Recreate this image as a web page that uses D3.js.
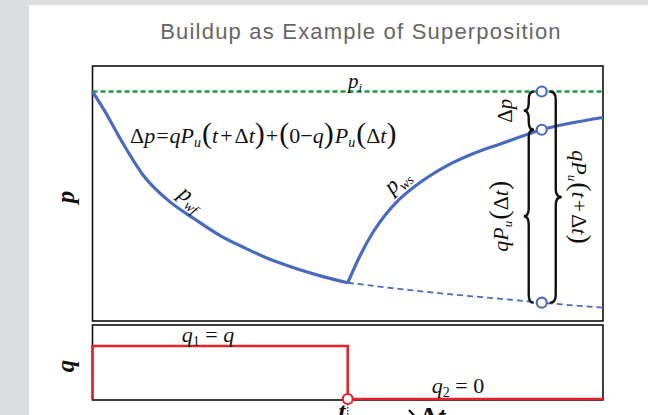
<!DOCTYPE html>
<html>
<head>
<meta charset="utf-8">
<script src="https://cdn.jsdelivr.net/npm/d3@7"></script>
<style>
  html, body { margin: 0; padding: 0; background: #dcdddf; }
  svg { display: block; }
</style>
</head>
<body>
<svg id="chart" width="648" height="415"></svg>
<script>
// ---- data -------------------------------------------------------------
// time runs 0..10; the well is shut in at t = 5
const shutInTime = 5;
const timeDomain = [0, 10];
const pressureDomain = [0, 100];
const initialPressure = 90;

// flowing pressure p_wf during the drawdown period
const drawdownTime     = [0, 0.25, 0.5, 1, 1.5, 2, 2.5, 3, 3.5, 4, 4.5, 5];
const drawdownPressure = [90, 82, 73, 57, 47, 40, 33.5, 28.5, 24, 20.5, 17.5, 15];

// shut-in pressure p_ws against shut-in time Δt
const buildupDeltaT   = [0, 0.25, 0.5, 0.75, 1, 1.5, 2, 2.5, 3, 3.8, 5];
const buildupPressure = [15, 26, 35, 42, 47.5, 55.5, 61.5, 66, 69.5, 75, 79.8];

// drawdown continued as if the well kept flowing
const extensionTime     = [5, 6, 7, 8, 8.8, 10];
const extensionPressure = [15, 12.6, 10.5, 8.7, 7.2, 5.2];

// rate history: q1 = q until t, then q2 = 0
const rateTime  = [0, 0, 5, 5, 10];
const rateValue = [0, 1, 1, 0, 0];

// reading taken at t + Δt
const observeTime = 8.8;
const observePressures = [90, 75, 7.2];   // p_i, p_ws, extended p_wf

// ---- layout -----------------------------------------------------------
const svg = d3.select("#chart");
const blue = "#4a6bbd", green = "#1e9a4a", red = "#e6232b";
const serif = "'Liberation Serif', 'Times New Roman', serif";

svg.append("rect").attr("width", 648).attr("height", 415).attr("fill", "#dcdddf");
svg.append("rect").attr("x", 29).attr("y", 5).attr("width", 619).attr("height", 410).attr("fill", "#fff");

const x = d3.scaleLinear().domain(timeDomain).range([92.5, 603]);
const yP = d3.scaleLinear().domain(pressureDomain).range([321, 66]);
const yQ = d3.scaleLinear().domain([0, 1]).range([399, 346]);

// title
svg.append("text")
  .attr("x", 361).attr("y", 39)
  .attr("text-anchor", "middle")
  .attr("font-family", "'Liberation Sans', Arial, sans-serif")
  .attr("font-size", 22)
  .attr("letter-spacing", 1.2)
  .attr("fill", "#666")
  .text("Buildup as Example of Superposition");

// panel frames
const [x0, x1] = x.range();
svg.append("rect").attr("x", x0).attr("y", yP.range()[1])
  .attr("width", x1 - x0).attr("height", yP.range()[0] - yP.range()[1])
  .attr("fill", "none").attr("stroke", "#111").attr("stroke-width", 1.6);
svg.append("rect").attr("x", x0).attr("y", 325)
  .attr("width", x1 - x0).attr("height", 75)
  .attr("fill", "none").attr("stroke", "#111").attr("stroke-width", 1.6);

// text built from runs: [string, {italic, size, dy, dx}]
function mathText(parent, px, py, runs, opts = {}) {
  const t = parent.append("text")
    .attr("x", px).attr("y", py)
    .attr("font-family", serif)
    .attr("font-size", opts.size || 20)
    .attr("text-anchor", opts.anchor || "start")
    .attr("fill", "#111");
  if (opts.weight) t.attr("font-weight", opts.weight);
  if (opts.transform) t.attr("transform", opts.transform);
  runs.forEach(([s, o = {}]) => {
    const ts = t.append("tspan").text(s);
    if (o.italic) ts.attr("font-style", "italic");
    if (o.size) ts.attr("font-size", o.size);
    if (o.dy) ts.attr("dy", o.dy);
    if (o.dx) ts.attr("dx", o.dx);
  });
  return t;
}

// ---- pressure panel ---------------------------------------------------
svg.append("line")
  .attr("x1", x0).attr("x2", x1)
  .attr("y1", yP(initialPressure)).attr("y2", yP(initialPressure))
  .attr("stroke", green).attr("stroke-width", 2.6).attr("stroke-dasharray", "5,3");

const line = d3.line().curve(d3.curveMonotoneX);

svg.append("path")
  .attr("d", line(extensionTime.map((t, i) => [x(t), yP(extensionPressure[i])])))
  .attr("fill", "none").attr("stroke", blue).attr("stroke-width", 1.8)
  .attr("stroke-dasharray", "6,4");

svg.append("path")
  .attr("d", line(drawdownTime.map((t, i) => [x(t), yP(drawdownPressure[i])])))
  .attr("fill", "none").attr("stroke", blue).attr("stroke-width", 3.2);

svg.append("path")
  .attr("d", line(buildupDeltaT.map((dt, i) => [x(shutInTime + dt), yP(buildupPressure[i])])))
  .attr("fill", "none").attr("stroke", blue).attr("stroke-width", 3.2);

// curly brace, vertical, ends at xe, tip pointing dir (-1 left, +1 right)
function brace(xe, ya, yb, w, dir) {
  const ym = (ya + yb) / 2, xm = xe + dir * w / 2, xt = xe + dir * w, r = Math.min(8, (yb - ya) / 4);
  return `M${xe},${ya} Q${xm},${ya} ${xm},${ya + r} L${xm},${ym - r} Q${xm},${ym} ${xt},${ym}` +
         ` Q${xm},${ym} ${xm},${ym + r} L${xm},${yb - r} Q${xm},${yb} ${xe},${yb}`;
}
const ox = x(observeTime);
const [yTop, yMid, yBot] = observePressures.map(yP);
const braces = svg.append("g").attr("fill", "none").attr("stroke", "#111").attr("stroke-width", 2.4);
braces.append("path").attr("d", brace(ox - 8, yTop, yMid, 10, -1));
braces.append("path").attr("d", brace(ox - 8, yMid, yBot, 10, -1));
braces.append("path").attr("d", brace(ox + 8, yTop, yBot, 12, 1));

svg.selectAll("circle.obs").data(observePressures).join("circle")
  .attr("class", "obs")
  .attr("cx", ox).attr("cy", d => yP(d)).attr("r", 5)
  .attr("fill", "#fff").attr("stroke", blue).attr("stroke-width", 2.2);

// labels in the pressure panel
mathText(svg, 348, 88, [["p", {italic: true}], ["i", {italic: true, size: 13, dy: 4}]], {size: 21});

mathText(svg, 130, 143, [
  ["Δ"], ["p", {italic: true}], ["=", {dx: 1}], ["q", {italic: true, dx: 1}], ["P", {italic: true}],
  ["u", {italic: true, size: 14, dy: 4}], ["(", {size: 30, dy: -4, dx: 1}], ["t", {italic: true, size: 22}],
  ["+", {dx: 2}], ["Δ", {dx: 2}], ["t", {italic: true}], [")", {size: 30}], ["+", {dx: 1}],
  ["(", {size: 30, dx: 1}], ["0", {size: 22}], ["−"], ["q", {italic: true}], [")", {size: 30}],
  ["P", {italic: true, size: 22, dx: 1}], ["u", {italic: true, size: 14, dy: 4}],
  ["(", {size: 30, dy: -4, dx: 1}], ["Δ", {size: 22}], ["t", {italic: true}], [")", {size: 30}]
], {size: 22});

mathText(svg, 0, 0, [["p", {italic: true}], ["wf", {italic: true, size: 14, dy: 5}]],
  {transform: "translate(177,196) rotate(38)", size: 23});
mathText(svg, 0, 0, [["p", {italic: true}], ["ws", {italic: true, size: 14, dy: 5}]],
  {transform: "translate(392,195) rotate(-42)", size: 23});

mathText(svg, 0, 0, [["Δ"], ["p", {italic: true}]],
  {transform: `translate(512,${(yTop + yMid) / 2}) rotate(-90)`, anchor: "middle", size: 21});
mathText(svg, 0, 0, [["q", {italic: true}], ["P", {italic: true}], ["u", {italic: true, size: 13, dy: 4}],
  ["(", {size: 28, dy: -4, dx: 1}], ["Δ", {size: 22}], ["t", {italic: true}], [")", {size: 28}]],
  {transform: `translate(508,${(yMid + yBot) / 2}) rotate(-90)`, anchor: "middle", size: 22});
mathText(svg, 0, 0, [["q", {italic: true}], ["P", {italic: true}], ["u", {italic: true, size: 13, dy: 4}],
  ["(", {size: 28, dy: -4, dx: 1}], ["t", {italic: true, size: 22}], ["+", {dx: 2}], ["Δ", {dx: 2}],
  ["t", {italic: true}], [")", {size: 28}]],
  {transform: `translate(572,${(yTop + yBot) / 2}) rotate(90)`, anchor: "middle", size: 22});

// axis letters
mathText(svg, 0, 0, [["p"]], {transform: "translate(74,197) rotate(-90)", anchor: "middle", size: 25, weight: "bold"})
  .attr("font-style", "italic");
mathText(svg, 0, 0, [["q"]], {transform: "translate(74,366) rotate(-90)", anchor: "middle", size: 25, weight: "bold"})
  .attr("font-style", "italic");

// ---- rate panel -------------------------------------------------------
svg.append("path")
  .attr("d", d3.line()(rateTime.map((t, i) => [x(t), yQ(rateValue[i])])))
  .attr("fill", "none").attr("stroke", red).attr("stroke-width", 2.6);

svg.append("line")
  .attr("x1", x(shutInTime)).attr("x2", x(shutInTime))
  .attr("y1", yQ(0) + 5).attr("y2", 415)
  .attr("stroke", "#111").attr("stroke-width", 1.2).attr("stroke-dasharray", "1.5,1.5");

svg.append("circle")
  .attr("cx", x(shutInTime)).attr("cy", yQ(0)).attr("r", 5)
  .attr("fill", "#fff").attr("stroke", red).attr("stroke-width", 2.2);

mathText(svg, 208, 342, [["q", {italic: true}], ["1", {size: 14, dy: 4}], [" = ", {dy: -4}], ["q", {italic: true}]],
  {anchor: "middle", size: 22});
mathText(svg, 458, 393, [["q", {italic: true}], ["2", {size: 14, dy: 4}], [" = ", {dy: -4}], ["0"]],
  {anchor: "middle", size: 22});

// time markers below the rate panel
mathText(svg, x(shutInTime) - 6, 420, [["t"]], {anchor: "middle", size: 26, weight: "bold"})
  .attr("font-style", "italic");
svg.append("path")
  .attr("d", "M362,420 L417,420 M409,410 L418,420")
  .attr("fill", "none").attr("stroke", "#111").attr("stroke-width", 2.2);
mathText(svg, 420, 426, [["Δ"], ["t", {italic: true}]], {size: 28, weight: "bold"});
</script>
</body>
</html>
